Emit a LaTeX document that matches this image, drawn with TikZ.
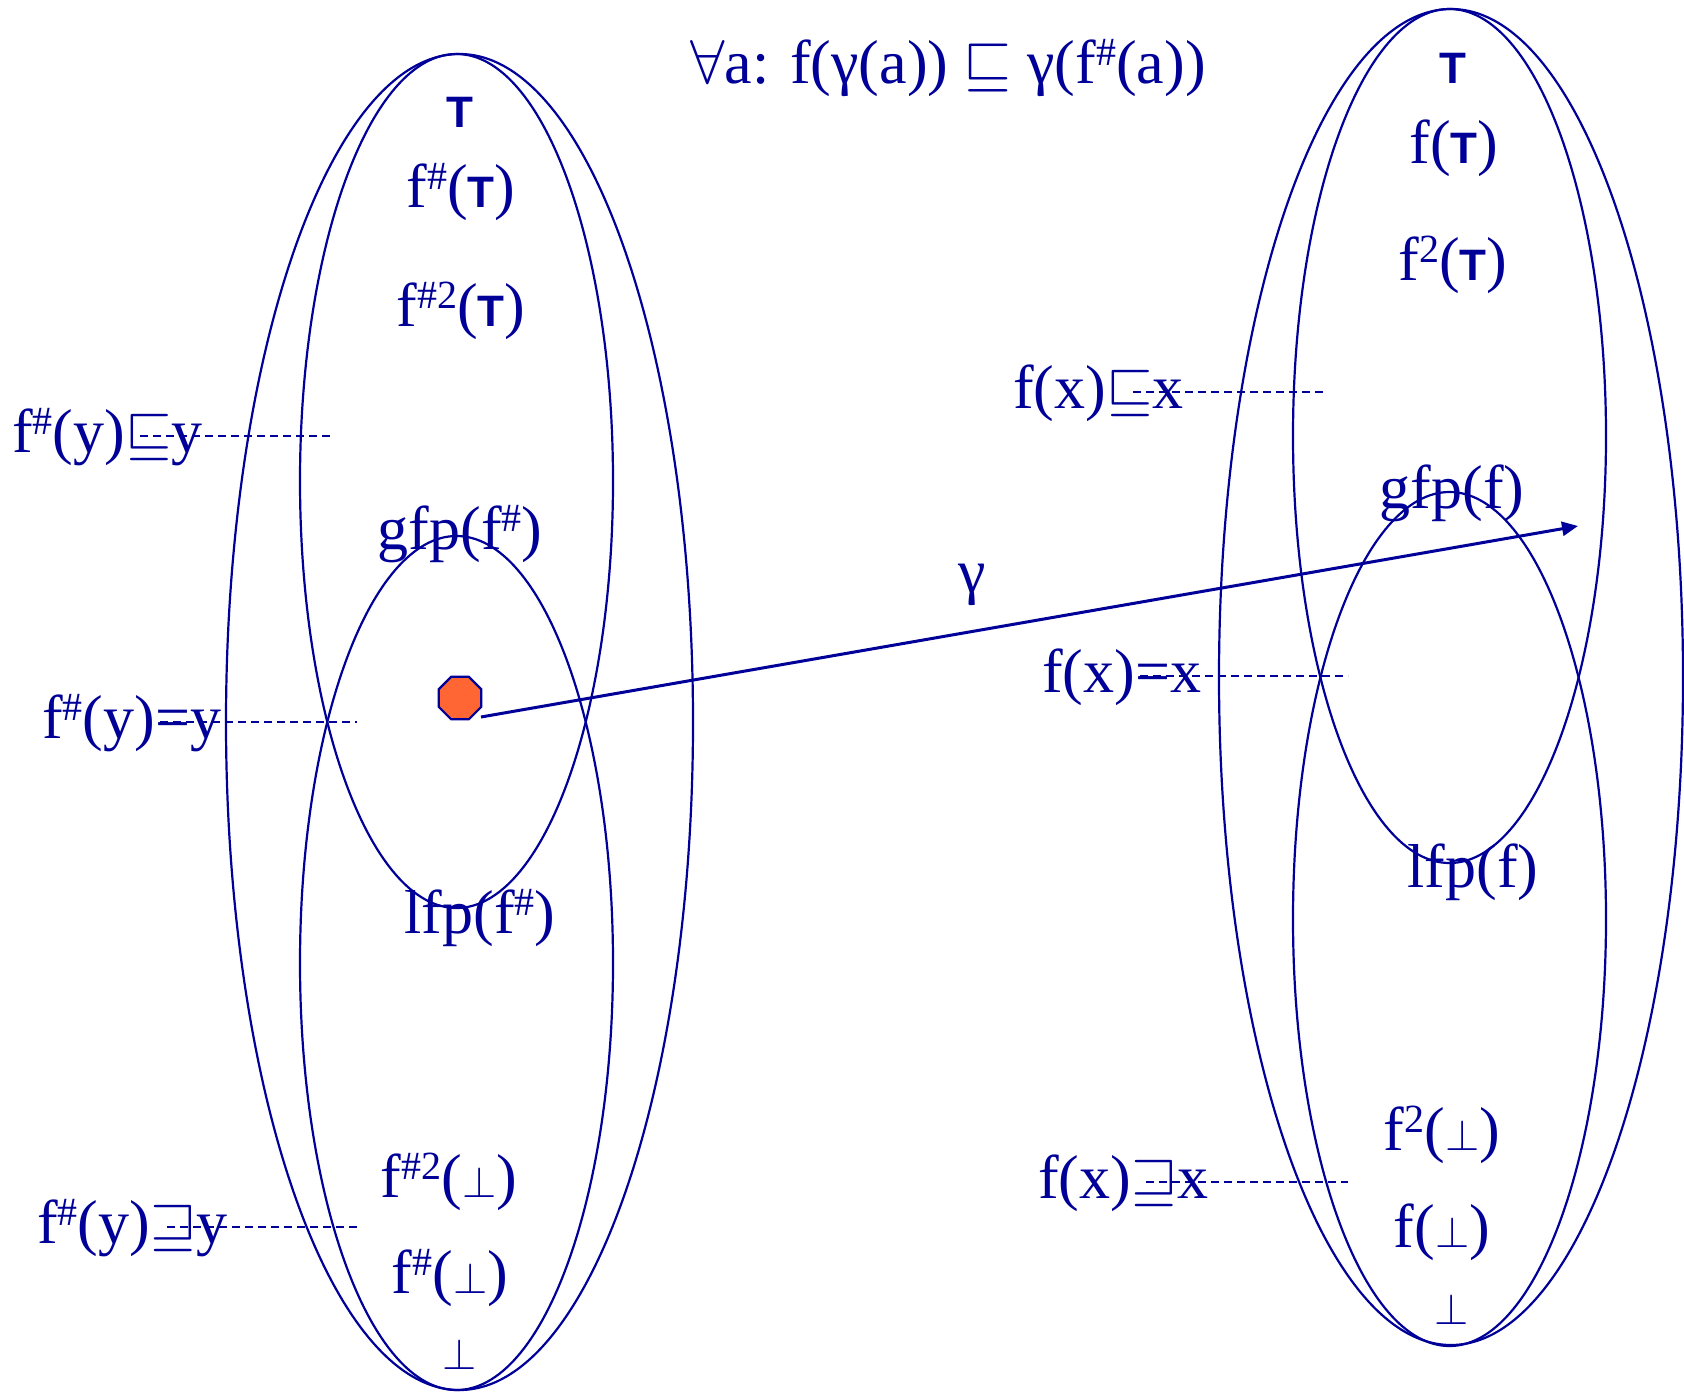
\RequirePackage{fix-cm}
\documentclass[tikz,border=0pt]{standalone}
\usepackage{fontspec}
\setmainfont{Liberation Serif}
\newfontfamily\topfont{Liberation Sans}
\usetikzlibrary{shapes.geometric,arrows.meta}
\definecolor{blu}{RGB}{0,0,153}
\definecolor{orng}{RGB}{255,102,51}
\newcommand\supx[1]{\raisebox{18pt}{\fontsize{40}{40}\selectfont #1}}
\newcommand\Tp{{\topfont\bfseries\fontsize{44}{44}\selectfont T}}
\newcommand\Bt{{\fontsize{44}{44}\selectfont$\perp$}}
\newcommand\sqle{{\fontsize{60}{60}\selectfont$\sqsubseteq$}}
\newcommand\sqge{{\fontsize{60}{60}\selectfont$\sqsupseteq$}}
\begin{document}
\begin{tikzpicture}[x=1pt,y=-1pt,
  lab/.style={text=blu, font=\fontsize{62}{62}\selectfont, inner sep=0pt, anchor=base},
  side/.style={lab, anchor=base west},
  ell/.style={draw=blu, line width=2.2pt},
  dsh/.style={draw=blu, line width=2.2pt, dash pattern=on 8pt off 5pt},
  arr/.style={draw=blu, line width=3pt, -{Triangle[length=16pt,width=14pt]}}]
\useasboundingbox (0,0) rectangle (1684,1393);
% left lattice
\draw[ell] (459.5,722) ellipse [x radius=233.5pt, y radius=668pt];
\draw[ell] (456.5,481) ellipse [x radius=156.5pt, y radius=427pt];
\draw[ell] (456.5,963) ellipse [x radius=156.5pt, y radius=427pt];
% right lattice
\draw[ell] (1451,677) ellipse [x radius=232pt, y radius=668pt];
\draw[ell] (1449.5,436) ellipse [x radius=156.5pt, y radius=427pt];
\draw[ell] (1449.5,919) ellipse [x radius=156.5pt, y radius=427pt];
% title
\node[lab] (title) at (948,83) {$\forall$a: f(γ(a)) $\sqsubseteq$ γ(f\supx{\#}(a))};
% left labels
\node[lab] (lt) at (460,127) {\Tp};
\node[lab] (lf1) at (461,207) {f\supx{\#}(\Tp)};
\node[lab] (lf2) at (461,326) {f\supx{\#2}(\Tp)};
\node[lab] (lgfp) at (460,549) {gfp(f\supx{\#})};
\node[lab] (llfp) at (480,933) {lfp(f\supx{\#})};
\node[lab] (lb2) at (449,1197) {f\supx{\#2}(\Bt)};
\node[lab] (lb1) at (450,1293) {f\supx{\#}(\Bt)};
\node[lab] (lb) at (460,1369) {\Bt};
% left side conditions
\node[side] (lle) at (12,452) {f\supx{\#}(y)\sqle y};
\node[side] (leq) at (42,738) {f\supx{\#}(y)=y};
\node[side] (lge) at (37,1243) {f\supx{\#}(y)\sqge y};
\coordinate (lle1) at (140,436); \coordinate (lle2) at (332,436);
\coordinate (leq1) at (160,722); \coordinate (leq2) at (357,722);
\coordinate (lge1) at (167,1227); \coordinate (lge2) at (357,1227);
\draw[dsh] (lle1) -- (lle2);
\draw[dsh] (leq1) -- (leq2);
\draw[dsh] (lge1) -- (lge2);
% right labels
\node[lab] (rt) at (1453,83) {\Tp};
\node[lab] (rf1) at (1454,163) {f(\Tp)};
\node[lab] (rf2) at (1453,280) {f\supx{2}(\Tp)};
\node[lab] (rgfp) at (1452,508) {gfp(f)};
\node[lab] (rlfp) at (1473,887) {lfp(f)};
\node[lab] (rb2) at (1442,1150) {f\supx{2}(\Bt)};
\node[lab] (rb1) at (1442,1247) {f(\Bt)};
\node[lab] (rb) at (1452,1324) {\Bt};
% right side conditions
\node[side] (rle) at (1013,408) {f(x)\sqle x};
\node[side] (req) at (1042,692) {f(x)=x};
\node[side] (rge) at (1038,1198) {f(x)\sqge x};
\coordinate (rle1) at (1133,392); \coordinate (rle2) at (1323,392);
\coordinate (req1) at (1140,676); \coordinate (req2) at (1348,676);
\coordinate (rge1) at (1146,1182); \coordinate (rge2) at (1348,1182);
\draw[dsh] (rle1) -- (rle2);
\draw[dsh] (req1) -- (req2);
\draw[dsh] (rge1) -- (rge2);
% abstract element and gamma
\node[regular polygon, regular polygon sides=8, minimum size=46pt, inner sep=0pt,
      fill=orng, draw=blu, line width=2.2pt] (oct) at (460,698) {};
\coordinate (gs) at (481,717);
\coordinate (ge) at (1578,526);
\draw[arr] (gs) -- (ge);
\node[lab, anchor=center] (gam) at (972,585) {γ};
\end{tikzpicture}
\end{document}
